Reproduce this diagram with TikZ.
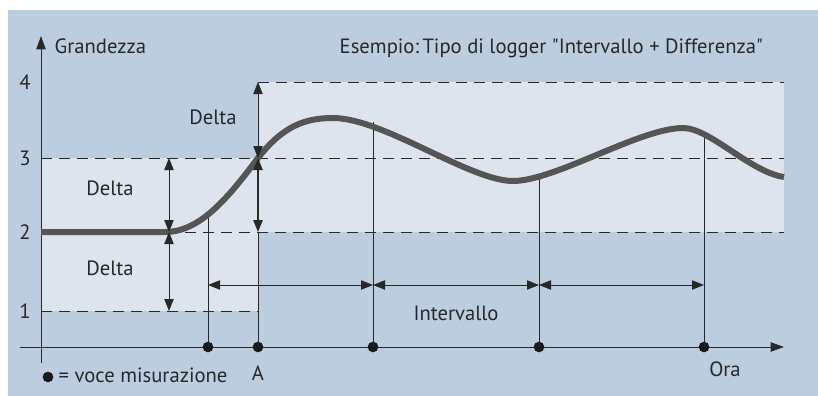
\documentclass[tikz,border=0pt]{standalone}
\usepackage{amsmath}
\usepackage{fontspec}
\setmainfont{PT Sans}
\usepackage{tikz}
\usetikzlibrary{arrows.meta}

\definecolor{bgblue}{RGB}{188,205,224}
\definecolor{bandblue}{RGB}{221,228,238}
\definecolor{inkgray}{RGB}{40,40,40}
\definecolor{curvegray}{RGB}{85,85,85}

\begin{document}
\begin{tikzpicture}[x=0.75pt,y=-0.75pt,font=\fontsize{15.5}{18}\selectfont,text=inkgray]
                \tikzstyle{dot}=[circle, fill=black!90, inner sep=0pt, minimum size=8pt]
                \tikzstyle{level}=[draw=inkgray, dash pattern=on 8.5pt off 5pt, line width=0.6pt]
                \tikzstyle{axis}=[draw=inkgray, line width=0.75pt, -{Triangle[length=10pt,width=7pt]}]
                \tikzstyle{dim}=[draw=inkgray, line width=0.6pt, {Triangle[length=9pt,width=7pt]}-{Triangle[length=9pt,width=7pt]}]
                \tikzstyle{tick}=[draw=inkgray, line width=0.6pt]

                \useasboundingbox (0,0) rectangle (818,396);
                \fill[bgblue] (8,10) rectangle (818,396);
                \fill[bandblue] (41,158) rectangle (258,311);
                \fill[bandblue] (258,82) rectangle (784,232);

                % levels
                \coordinate (l4a) at (258,82);  \coordinate (l4b) at (784,82);
                \coordinate (l3a) at (41,158);  \coordinate (l3b) at (784,158);
                \coordinate (l2a) at (41,232);  \coordinate (l2b) at (784,232);
                \coordinate (l1a) at (41,311);  \coordinate (l1b) at (258,311);
                \foreach \source/ \dest in {l4a/l4b, l3a/l3b, l2a/l2b, l1a/l1b}
                \path[level] (\source) -- (\dest);

                \node (n4) at (25,82) {4};
                \node (n3) at (25,158) {3};
                \node (n2) at (25,232) {2};
                \node (n1) at (25,311) {1};

                % axes
                \coordinate (yo) at (41,363);  \coordinate (yt) at (41,36);
                \coordinate (xo) at (20,347);  \coordinate (xt) at (784,347);
                \path[axis] (yo) -- (yt);
                \path[axis] (xo) -- (xt);
                \node[anchor=base west] (gr) at (50,53) {Grandezza};
                \node[anchor=base west] (tit) at (335,53) {Esempio:\,Tipo di logger \textquotedbl Intervallo + Differenza\textquotedbl};

                % curve points
                \coordinate (c1) at (208,218);
                \coordinate (c2) at (258,232);
                \coordinate (c3) at (373,122);
                \coordinate (c4) at (539,179);
                \coordinate (c5) at (704,136);

                % measurements
                \node[dot] (d1) at (208,347) {};
                \node[dot] (d2) at (258,347) {};
                \node[dot] (d3) at (373,347) {};
                \node[dot] (d4) at (539,347) {};
                \node[dot] (d5) at (704,347) {};
                \foreach \source/ \dest in {d1/c1, d2/c2, d3/c3, d4/c4, d5/c5}
                \path[tick] (\source.center) -- (\dest);

                \draw[curvegray, line width=4.5pt]
                    (41,232) -- (165,232)
                    .. controls (200,232) and (228,198) .. (258,158)
                    .. controls (283,126) and (305,118) .. (333,118)
                    .. controls (383,118) and (470,181) .. (513,181)
                    .. controls (555,181) and (640,128) .. (683,128)
                    .. controls (710,128) and (750,172) .. (784,177);

                % deltas
                \coordinate (a1) at (169,158); \coordinate (a2) at (169,232); \coordinate (a3) at (169,311);
                \coordinate (b1) at (258,82);  \coordinate (b2) at (258,158);
                \path[dim] (a1) -- (a2);
                \path[dim] (a2) -- (a3);
                \path[dim] (b1) -- (b2);
                \path[dim, line width=1.2pt] (b2) -- (c2);
                \node (dl1) at (213,117) {Delta};
                \node (dl2) at (110,188) {Delta};
                \node (dl3) at (110,268) {Delta};

                % intervals
                \coordinate (i1) at (208,285); \coordinate (i2) at (373,285);
                \coordinate (i3) at (539,285); \coordinate (i4) at (704,285);
                \foreach \source/ \dest in {i1/i2, i2/i3, i3/i4}
                \path[dim] (\source) -- (\dest);
                \node (iv) at (456,313) {Intervallo};

                % legend
                \node[dot] (ld) at (48,377) {};
                \node[anchor=west] (lt) at (54,375) {= voce misurazione};
                \node (lA) at (258,373) {A};
                \node (ora) at (725,369) {Ora};
            \end{tikzpicture}
\end{document}
